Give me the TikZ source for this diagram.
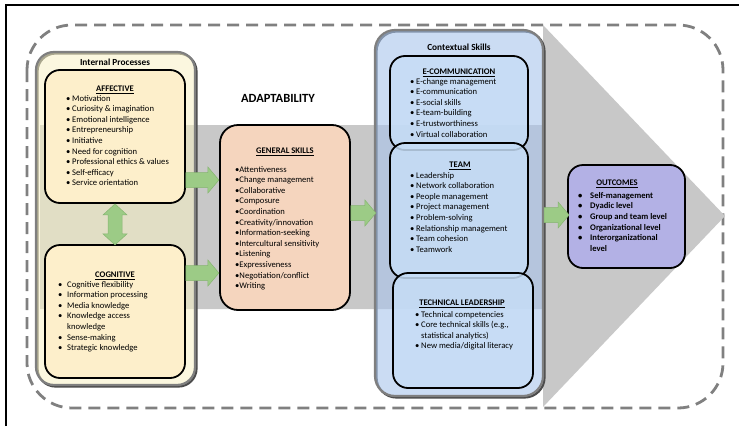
\documentclass[tikz,border=0pt]{standalone}
\usepackage{fontspec}
\setmainfont{Carlito}
\definecolor{dashcol}{HTML}{808080}
\definecolor{bandcol}{HTML}{C8C8C8}
\definecolor{intfill}{HTML}{F7F1C4}
\definecolor{ctxfill}{HTML}{A9C4EB}
\definecolor{yelfill}{HTML}{FDEFCB}
\definecolor{genfill}{HTML}{F5D5BE}
\definecolor{bluefill}{HTML}{C6DDF6}
\definecolor{outfill}{HTML}{B3B1E5}
\definecolor{grnfill}{HTML}{9CCB86}
\definecolor{grnline}{HTML}{86B571}
\definecolor{boxgray}{HTML}{7F7F7F}
\newcommand\li[2][6pt]{\makebox[#1][l]{\textbullet}#2}
\newcommand\hgarrow[2]{% #1 start point, #2 length
  \filldraw[garrow] (#1) ++(0,-7.5) -- ++({#2-11},0) -- ++(0,-5.5) -- ++(11,13) -- ++(-11,13) -- ++(0,-5.5) -- ++({-#2+11},0) -- cycle;}
\begin{document}
\begin{tikzpicture}[x=1pt,y=-1pt,
  outerbox/.style={draw=boxgray,line width=2.2pt,rounded corners=18pt,inner sep=0pt},
  shadowline/.style={draw=black!70,line width=2.2pt,rounded corners=18pt},
  innerbox/.style={draw=black,line width=1.8pt,rounded corners=15pt,inner sep=0pt},
  ttl/.style={font=\bfseries\fontsize{9.3}{11}\selectfont,inner sep=0pt},
  head/.style={font=\bfseries\fontsize{8.6}{10}\selectfont,inner sep=0pt,anchor=base},
  lst/.style={font=\fontsize{8.6}{10.6}\selectfont,align=left,inner sep=0pt,anchor=north west},
  garrow/.style={fill=grnfill,draw=grnline,line width=0.5pt}]
\useasboundingbox (0,0) rectangle (739,426);
% frame
\draw[line width=2pt] (6,426) -- (6,5) -- (739,5);
% dashed boundary
\draw[dashcol,line width=2.8pt,dash pattern=on 12pt off 7pt,rounded corners=45pt]
  (27,25) rectangle (723,408);
% big grey arrow
\fill[bandcol] (40,125) -- (543,125) -- (543,25) -- (725,216) -- (543,407) -- (543,309) -- (40,309) -- cycle;
% container shadows
\draw[shadowline] (37.5,53.5) rectangle (196.5,386.5);
\draw[shadowline,rounded corners=20pt] (376.5,31.5) rectangle (544.5,397.5);
% containers
\node[outerbox,fill=intfill,fill opacity=0.55,minimum width=159pt,minimum height=333pt] (int) at (115.5,218.5) {};
\node[outerbox,fill=ctxfill,fill opacity=0.6,rounded corners=20pt,minimum width=168pt,minimum height=366pt] (ctx) at (459,213) {};
\node[ttl] (intT) at (115,62) {Internal Processes};
\node[ttl] (ctxT) at (459,47) {Contextual Skills};
\node[font=\bfseries\fontsize{12.5}{14}\selectfont,inner sep=0pt] (adapt) at (278,98) {ADAPTABILITY};
% inner boxes
\node[innerbox,fill=yelfill,minimum width=140pt,minimum height=133pt] (aff) at (115,136.5) {};
\node[innerbox,fill=yelfill,minimum width=140pt,minimum height=133pt] (cog) at (115,311.5) {};
\node[innerbox,fill=genfill,rounded corners=18pt,minimum width=130pt,minimum height=185pt] (gen) at (285,217.5) {};
\node[innerbox,fill=bluefill,fill opacity=0.85,minimum width=138pt,minimum height=94pt] (ecom) at (459,103) {};
\node[innerbox,fill=bluefill,fill opacity=0.85,minimum width=138pt,minimum height=135pt] (team) at (459,210.5) {};
\node[innerbox,fill=bluefill,fill opacity=0.85,minimum width=140pt,minimum height=115pt] (tech) at (463,330.5) {};
\node[innerbox,fill=outfill,minimum width=117pt,minimum height=103pt] (out) at (626.5,216.5) {};
% headings
\node[head] (affH) at (115,91.8) {\underline{AFFECTIVE}};
\node[head] (cogH) at (115,277.8) {\underline{COGNITIVE}};
\node[head] (genH) at (285,153.8) {\underline{GENERAL SKILLS}};
\node[head] (ecomH) at (459,74.8) {\underline{E-COMMUNICATION}};
\node[head] (teamH) at (460,167.8) {\underline{TEAM}};
\node[head] (techH) at (462,305.8) {\underline{TECHNICAL LEADERSHIP}};
\node[head] (outH) at (617,185.8) {\underline{OUTCOMES}};
% lists
\node[lst] (affL) at (66,95) {\li{Motivation}\\\li{Curiosity \& imagination}\\\li{Emotional intelligence}\\\li{Entrepreneurship}\\\li{Initiative}\\\li{Need for cognition}\\\li{Professional ethics \& values}\\\li{Self-efficacy}\\\li{Service orientation}};
\node[lst] (cogL) at (58,281) {\li[9pt]{Cognitive flexibility}\\\li[9pt]{Information processing}\\\li[9pt]{Media knowledge}\\\li[9pt]{Knowledge access}\\\hspace*{9pt}knowledge\\\li[9pt]{Sense-making}\\\li[9pt]{Strategic knowledge}};
\node[lst] (genL) at (235,166) {\textbullet Attentiveness\\\textbullet Change management\\\textbullet Collaborative\\\textbullet Composure\\\textbullet Coordination\\\textbullet Creativity/innovation\\\textbullet Information-seeking\\\textbullet Intercultural sensitivity\\\textbullet Listening\\\textbullet Expressiveness\\\textbullet Negotiation/conflict\\\textbullet Writing};
\node[lst] (ecomL) at (410,78) {\li{E-change management}\\\li{E-communication}\\\li{E-social skills}\\\li{E-team-building}\\\li{E-trustworthiness}\\\li{Virtual collaboration}};
\node[lst] (teamL) at (410,172) {\li{Leadership}\\\li{Network collaboration}\\\li{People management}\\\li{Project management}\\\li{Problem-solving}\\\li{Relationship management}\\\li{Team cohesion}\\\li{Teamwork}};
\node[lst] (techL) at (415,311) {\li{Technical competencies}\\\li{Core technical skills (e.g.,}\\\hspace*{6pt}statistical analytics)\\\li{New media/digital literacy}};
\node[lst,font=\bfseries\fontsize{8.6}{10.6}\selectfont] (outL) at (578,192) {\li[12pt]{Self-management}\\\li[12pt]{Dyadic level}\\\li[12pt]{Group and team level}\\\li[12pt]{Organizational level}\\\li[12pt]{Interorganizational}\\\hspace*{12pt}level};
% green block arrows
\hgarrow{aff.east |- 0,180}{33}
\hgarrow{cog.east |- 0,273}{33}
\hgarrow{gen.east |- 0,213}{25}
\hgarrow{ctx.east |- 0,215}{25}
% vertical double arrow
\filldraw[garrow] (aff.south) -- ++(12,11) -- ++(-5,0) -- ++(0,19) -- ++(5,0) -- ++(-12,11) -- ++(-12,-11) -- ++(5,0) -- ++(0,-19) -- ++(-5,0) -- cycle;
\end{tikzpicture}
\end{document}
